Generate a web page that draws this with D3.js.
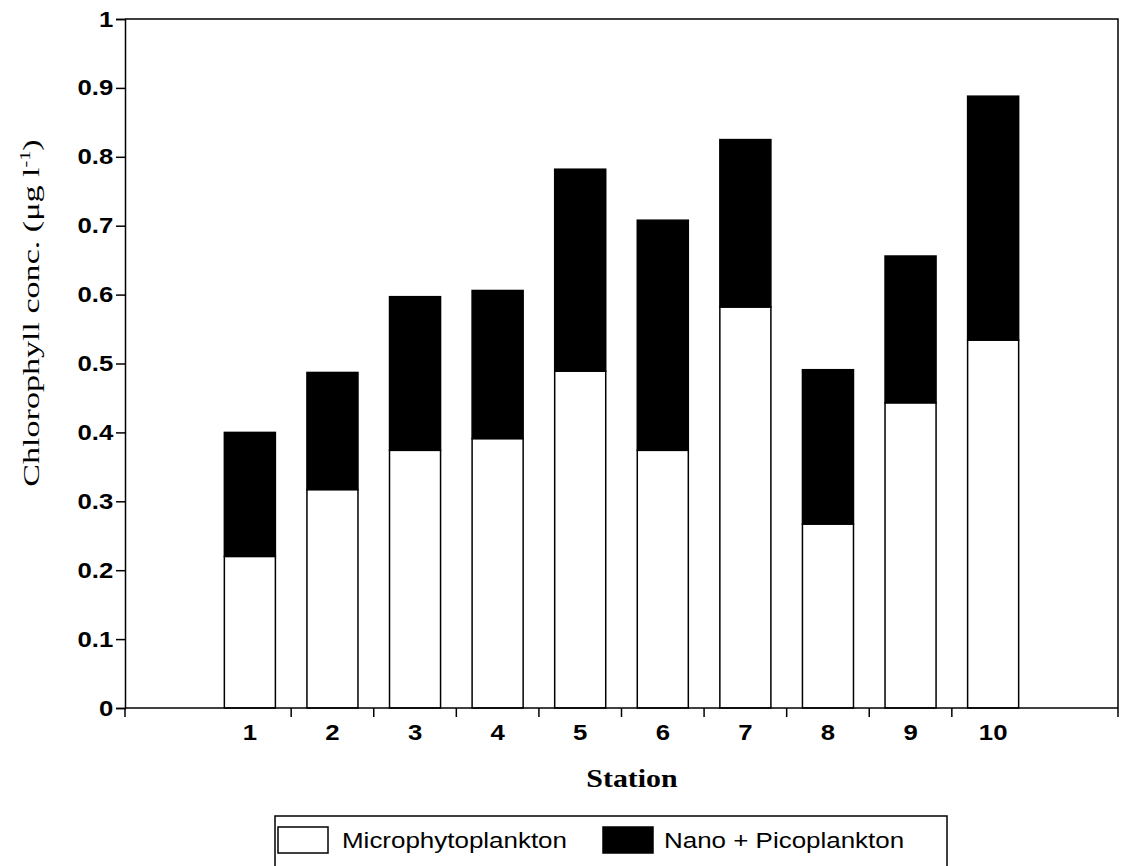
<!DOCTYPE html>
<html>
<head>
<meta charset="utf-8">
<script src="https://cdn.jsdelivr.net/npm/d3@7"></script>
<style>
  html, body { margin: 0; padding: 0; background: #fff; }
  svg { display: block; }
</style>
</head>
<body>
<svg id="chart" width="1140" height="866"></svg>
<script>
// Chlorophyll concentration per station, split by size fraction (µg l-1)
const stations = ["1", "2", "3", "4", "5", "6", "7", "8", "9", "10"];
const micro = [0.220, 0.317, 0.374, 0.391, 0.489, 0.374, 0.582, 0.267, 0.443, 0.534];
const nanoPico = [0.180, 0.170, 0.223, 0.215, 0.293, 0.334, 0.243, 0.224, 0.213, 0.354];
const yTicks = [0, 0.1, 0.2, 0.3, 0.4, 0.5, 0.6, 0.7, 0.8, 0.9, 1];
const seriesNames = ["Microphytoplankton", "Nano + Picoplankton"];

const svg = d3.select("#chart");
const sansFont = "'Liberation Sans', Arial, Helvetica, sans-serif";
const serifFont = "'Liberation Serif', 'Times New Roman', serif";
const wide = "scale(1.17,1)";   // the lettering is set slightly expanded

const plotLeft = 125, plotRight = 1118, plotTop = 19, plotBottom = 708;

const x = d3.scaleBand()
  .domain(stations)
  .range([plotLeft, plotRight])
  .paddingInner(0.382)
  .paddingOuter(1.203);

const y = d3.scaleLinear().domain([0, 1]).range([plotBottom, plotTop]);

const rows = stations.map((s, i) => ({ station: s, micro: micro[i], nano: nanoPico[i] }));

// Plot frame (top and right sides)
svg.append("path")
  .attr("d", `M${plotLeft},${plotTop}H${plotRight}V${plotBottom}`)
  .attr("fill", "none").attr("stroke", "#000").attr("stroke-width", 1.5);

// Bars: white lower segment, black upper segment
const g = svg.append("g");
g.selectAll("rect.micro").data(rows).join("rect")
  .attr("class", "micro")
  .attr("x", d => x(d.station))
  .attr("width", x.bandwidth())
  .attr("y", d => y(d.micro))
  .attr("height", d => y(0) - y(d.micro))
  .attr("fill", "#fff").attr("stroke", "#000").attr("stroke-width", 1.5);

g.selectAll("rect.nano").data(rows).join("rect")
  .attr("class", "nano")
  .attr("x", d => x(d.station))
  .attr("width", x.bandwidth())
  .attr("y", d => y(d.micro + d.nano))
  .attr("height", d => y(d.micro) - y(d.micro + d.nano))
  .attr("fill", "#000").attr("stroke", "#000").attr("stroke-width", 1.5);

// Y axis
const yAxis = svg.append("g")
  .attr("transform", `translate(${plotLeft},0)`)
  .call(d3.axisLeft(y).tickValues(yTicks).tickSize(9).tickPadding(1)
    .tickFormat(d => d === 0 ? "0" : d === 1 ? "1" : d3.format(".1f")(d)));
yAxis.select(".domain").attr("stroke-width", 1.5);
yAxis.selectAll(".tick line").attr("stroke-width", 1.5);
yAxis.selectAll(".tick text")
  .attr("font-family", sansFont).attr("font-size", 22).attr("font-weight", "bold")
  .attr("fill", "#000").attr("transform", wide);

// X axis: station labels under bars, ticks between stations
const xAxis = svg.append("g")
  .attr("transform", `translate(0,${plotBottom})`)
  .call(d3.axisBottom(x).tickSize(0).tickPadding(16));
xAxis.select(".domain").attr("stroke", "none");
xAxis.selectAll(".tick text")
  .attr("font-family", sansFont).attr("font-size", 22).attr("font-weight", "bold")
  .attr("fill", "#000").attr("transform", wide);

svg.append("line")
  .attr("x1", plotLeft).attr("x2", plotRight).attr("y1", plotBottom).attr("y2", plotBottom)
  .attr("stroke", "#000").attr("stroke-width", 1.5);

const tickXs = [plotLeft, plotRight].concat(
  stations.slice(0, -1).map(s => x(s) + x.bandwidth() / 2 + x.step() / 2));
svg.append("g").selectAll("line").data(tickXs).join("line")
  .attr("x1", d => d).attr("x2", d => d)
  .attr("y1", plotBottom).attr("y2", plotBottom + 9)
  .attr("stroke", "#000").attr("stroke-width", 1.5);

// Axis titles
svg.append("text")
  .attr("transform", "translate(632,787) scale(1.15,1)")
  .attr("text-anchor", "middle")
  .attr("font-family", serifFont).attr("font-size", 26).attr("font-weight", "bold")
  .text("Station");

const yTitle = svg.append("text")
  .attr("transform", "translate(39,313) rotate(-90) scale(1.45,1)")
  .attr("text-anchor", "middle")
  .attr("font-family", serifFont).attr("font-size", 23.5);
yTitle.append("tspan").text("Chlorophyll conc. (μg l");
yTitle.append("tspan").attr("font-size", 14).attr("dy", -9).text("-1");
yTitle.append("tspan").attr("dy", 9).text(")");

// Legend
const legend = svg.append("g");
legend.append("rect")
  .attr("x", 275).attr("y", 816).attr("width", 672).attr("height", 60)
  .attr("fill", "none").attr("stroke", "#000").attr("stroke-width", 1.5);

const legendItems = [
  { name: seriesNames[0], fill: "#fff", sx: 278, tx: 342 },
  { name: seriesNames[1], fill: "#000", sx: 603, tx: 664 }
];
legend.selectAll("rect.sw").data(legendItems).join("rect")
  .attr("class", "sw")
  .attr("x", d => d.sx).attr("y", 827).attr("width", 50).attr("height", 26)
  .attr("fill", d => d.fill).attr("stroke", "#000").attr("stroke-width", 1.5);
legend.selectAll("text").data(legendItems).join("text")
  .attr("transform", d => `translate(${d.tx},848) scale(1.18,1)`)
  .attr("font-family", sansFont).attr("font-size", 22)
  .text(d => d.name);
</script>
</body>
</html>
